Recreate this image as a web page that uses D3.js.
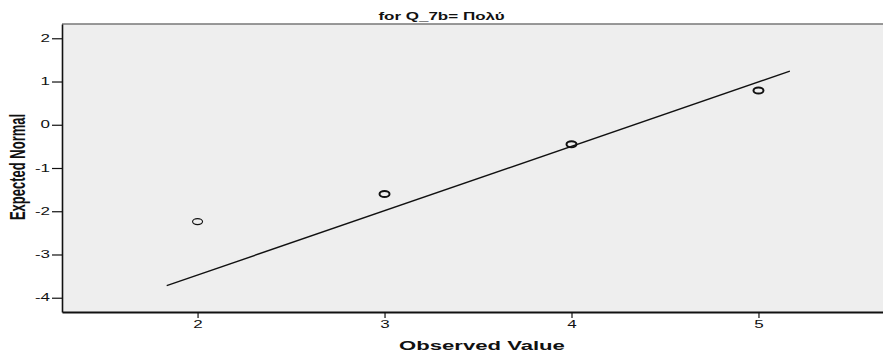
<!DOCTYPE html>
<html>
<head>
<meta charset="utf-8">
<script src="https://cdn.jsdelivr.net/npm/d3@7"></script>
<style>
  html, body { margin: 0; padding: 0; background: #fff; }
  svg { display: block; }
  text { font-family: "Liberation Sans", Arial, sans-serif; fill: #111; }
</style>
</head>
<body>
<svg id="chart" width="883" height="354"></svg>
<script>
// Normal Q-Q plot: observed values against expected normal scores
const observedValues = [2, 3, 4, 5];
const expectedNormal = [-2.24, -1.60, -0.45, 0.79];
const xTickValues = [2, 3, 4, 5];
const yTickValues = [2, 1, 0, -1, -2, -3, -4];
// reference line: expected = (observed - mean) / sd, drawn across this observed range
const refLineMean = 4.335;
const refLineSd = 0.672;
const refLineRange = [1.835, 5.168];
const titleText = "for Q_7b= Πολύ";
const xLabelText = "Observed Value";
const yLabelText = "Expected Normal";

const W = 883, H = 354;
const plot = { left: 62, right: 883, top: 24, bottom: 312 };
const stretch = 1.7; // horizontal widening of the glyphs

const svg = d3.select("#chart");

const x = d3.scaleLinear().domain([1.275, 5.666]).range([plot.left, plot.right]);
const y = d3.scaleLinear().domain([-4.33, 2.33]).range([plot.bottom, plot.top]);

// plot background
svg.append("rect")
  .attr("x", plot.left).attr("y", plot.top)
  .attr("width", plot.right - plot.left).attr("height", plot.bottom - plot.top)
  .attr("fill", "#eeeeee");

// top frame edge
svg.append("line")
  .attr("x1", plot.left).attr("x2", plot.right)
  .attr("y1", plot.top).attr("y2", plot.top)
  .attr("stroke", "#777").attr("stroke-width", 1.5);

// y axis
const yAxis = svg.append("g")
  .attr("transform", `translate(${plot.left},0)`)
  .call(d3.axisLeft(y).tickValues(yTickValues).tickSize(10).tickSizeOuter(0).tickPadding(2)
        .tickFormat(d3.format("d")));
yAxis.select(".domain").attr("stroke", "#111").attr("stroke-width", 1.6);
yAxis.selectAll(".tick line").attr("stroke", "#111").attr("stroke-width", 1.2);
yAxis.selectAll(".tick text")
  .attr("font-size", 10)
  .attr("x", -12 / stretch)
  .attr("transform", `scale(${stretch},1)`)
  .text(d => d < 0 ? "-" + Math.abs(d) : String(d));

// x axis
const xAxis = svg.append("g")
  .attr("transform", `translate(0,${plot.bottom})`)
  .call(d3.axisBottom(x).tickValues(xTickValues).tickSize(6).tickSizeOuter(0).tickPadding(3)
        .tickFormat(d3.format("d")));
xAxis.select(".domain").attr("stroke", "#111").attr("stroke-width", 2);
xAxis.selectAll(".tick line").attr("stroke", "#111").attr("stroke-width", 1.2);
xAxis.selectAll(".tick text")
  .attr("font-size", 10)
  .attr("transform", `scale(${stretch},1)`);

// reference line
const lineGen = d3.line().x(d => x(d)).y(d => y((d - refLineMean) / refLineSd));
svg.append("path")
  .datum(refLineRange)
  .attr("d", lineGen)
  .attr("fill", "none")
  .attr("stroke", "#111")
  .attr("stroke-width", 1.4);

// observed points
const pts = observedValues.map((v, i) => ({ x: v, y: expectedNormal[i], i }));
svg.append("g").selectAll("ellipse")
  .data(pts)
  .join("ellipse")
  .attr("cx", d => x(d.x))
  .attr("cy", d => y(d.y))
  .attr("rx", 5)
  .attr("ry", 3)
  .attr("fill", "none")
  .attr("stroke", "#111")
  .attr("stroke-width", d => d.i === 0 ? 1.1 : 2);

// title
svg.append("text")
  .attr("transform", `translate(${W / 2},20) scale(${stretch},1)`)
  .attr("text-anchor", "middle")
  .attr("font-size", 10)
  .attr("font-weight", "bold")
  .text(titleText);

// x label
svg.append("text")
  .attr("transform", `translate(482,350) scale(${stretch},1)`)
  .attr("text-anchor", "middle")
  .attr("font-size", 13)
  .attr("font-weight", "bold")
  .text(xLabelText);

// y label
svg.append("text")
  .attr("transform", `translate(25,167) scale(${stretch},1) rotate(-90)`)
  .attr("text-anchor", "middle")
  .attr("font-size", 13)
  .attr("font-weight", "bold")
  .text(yLabelText);
</script>
</body>
</html>
